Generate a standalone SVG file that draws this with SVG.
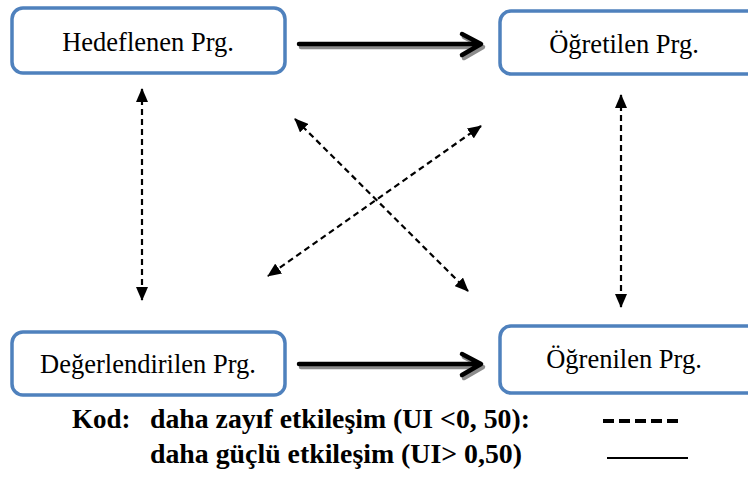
<svg xmlns="http://www.w3.org/2000/svg" width="748" height="477" viewBox="0 0 748 477">
<style>
.box{fill:#fff;stroke:#4F81BD;stroke-width:3.5}
.lbl{font-family:"Palatino Linotype","Book Antiqua","Liberation Serif",serif;font-size:26.5px;fill:#000;text-anchor:middle}
.leg{font-family:"Palatino Linotype","Book Antiqua","Liberation Serif",serif;font-size:27px;font-weight:bold;fill:#000}
.dash{stroke:#000;stroke-width:2.2;stroke-dasharray:6 4;fill:none}
.thick{stroke:#000;stroke-width:4.5;fill:none;stroke-linecap:round;stroke-linejoin:round}
.shadow{stroke:#8c8c8c;stroke-width:4.5;fill:none;stroke-linecap:round;stroke-linejoin:round}
</style>
<defs>
<marker id="ah" viewBox="0 0 14 12" refX="13" refY="6" markerWidth="14" markerHeight="12" markerUnits="userSpaceOnUse" orient="auto-start-reverse">
<path d="M0,0 L14,6 L0,12 Z" fill="#000"/>
</marker>
<filter id="blur" x="-20%" y="-100%" width="140%" height="300%"><feGaussianBlur stdDeviation="1.2"/></filter>
</defs>

<g id="node-hedeflenen">
<rect class="box" x="12" y="8" width="273" height="65" rx="11"/>
<text class="lbl" x="148" y="51">Hedeflenen Prg.</text>
</g>
<g id="node-ogretilen">
<rect class="box" x="500" y="11" width="262" height="63" rx="11"/>
<text class="lbl" x="624" y="53">Öğretilen Prg.</text>
</g>
<g id="node-degerlendirilen">
<rect class="box" x="12" y="332" width="273" height="63" rx="11"/>
<text class="lbl" x="148" y="373">Değerlendirilen Prg.</text>
</g>
<g id="node-ogrenilen">
<rect class="box" x="500" y="326" width="262" height="67" rx="11"/>
<text class="lbl" x="624" y="368">Öğrenilen Prg.</text>
</g>

<g id="connectors">
<path class="shadow" d="M301,47 L481,47 M464,37 L483,47 L464,58"/>
<path class="thick" d="M299,44 L479,44 M462,34 L481,44 L462,55"/>
<path class="shadow" d="M301,367 L481,367 M464,357 L483,367 L464,378"/>
<path class="thick" d="M299,364 L479,364 M462,354 L481,364 L462,375"/>
<line class="dash" x1="142" y1="89" x2="142" y2="300" marker-start="url(#ah)" marker-end="url(#ah)"/>
<line class="dash" x1="621" y1="95" x2="621" y2="307" marker-start="url(#ah)" marker-end="url(#ah)"/>
<line class="dash" x1="295" y1="119" x2="468" y2="291" marker-start="url(#ah)" marker-end="url(#ah)"/>
<line class="dash" x1="481" y1="126" x2="268" y2="276" marker-start="url(#ah)" marker-end="url(#ah)"/>
</g>

<g id="legend">
<text class="leg" x="72" y="428">Kod:</text>
<text class="leg" x="150" y="428" textLength="380" lengthAdjust="spacingAndGlyphs">daha zayıf etkileşim (UI &lt;0, 50):</text>
<text class="leg" x="150" y="463" textLength="372" lengthAdjust="spacingAndGlyphs">daha güçlü etkileşim (UI&gt; 0,50)</text>
<line x1="603" y1="423" x2="680" y2="423" stroke="#999" stroke-width="4" stroke-dasharray="11 5" filter="url(#blur)"/>
<line x1="603" y1="421" x2="680" y2="421" stroke="#000" stroke-width="4" stroke-dasharray="11 5"/>
<line x1="607" y1="460" x2="688" y2="460" stroke="#bbb" stroke-width="2" filter="url(#blur)"/>
<line x1="607" y1="458" x2="688" y2="458" stroke="#000" stroke-width="2"/>
</g>
</svg>
